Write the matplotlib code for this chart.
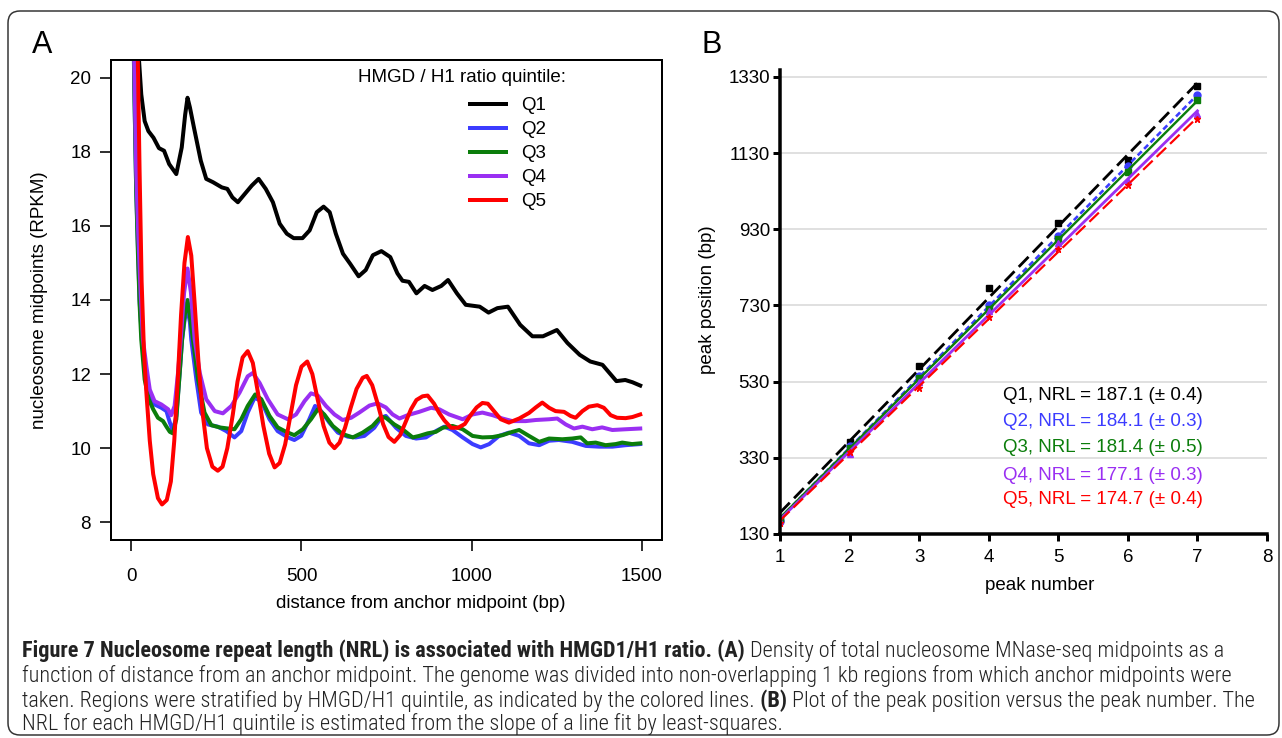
import numpy as np
import matplotlib
matplotlib.use("Agg")
from matplotlib import pyplot as plt
from matplotlib import font_manager
from matplotlib.patches import FancyBboxPatch
from matplotlib.transforms import IdentityTransform

W, H = 1282, 738

# ---- panel A: nucleosome midpoint density vs distance ----
q1_x = [10, 20, 29, 39, 50, 65, 81, 96, 111, 132, 148, 158, 165, 172, 184, 204, 220, 240, 266, 282, 297, 313,
        333, 354, 374, 395, 416, 436, 457, 477, 503, 524, 545, 565, 583, 601, 622, 643, 668, 689, 710, 735,
        761, 782, 797, 816, 838, 862, 885, 911, 931, 957, 983, 1024, 1050, 1076, 1107, 1143, 1179, 1210,
        1251, 1282, 1318, 1349, 1385, 1426, 1452, 1473, 1496]
q1_y = [24, 20.8, 19.55, 18.83, 18.56, 18.38, 18.10, 18.03, 17.67, 17.40, 18.12, 19.0, 19.46, 19.2, 18.65,
        17.76, 17.27, 17.18, 17.04, 17.00, 16.77, 16.64, 16.86, 17.09, 17.27, 17.00, 16.64, 16.06, 15.79,
        15.67, 15.67, 15.88, 16.37, 16.52, 16.37, 15.79, 15.25, 14.98, 14.64, 14.81, 15.21, 15.32, 15.16,
        14.72, 14.52, 14.49, 14.18, 14.38, 14.27, 14.38, 14.54, 14.18, 13.87, 13.82, 13.66, 13.78, 13.82,
        13.33, 13.02, 13.02, 13.19, 12.84, 12.52, 12.34, 12.25, 11.81, 11.84, 11.78, 11.69]

q2_x = [3, 8, 14, 19, 24, 31, 44, 54, 68, 88, 103, 113, 122, 132, 142, 149, 157, 165, 172, 176, 191, 205,
        225, 254, 279, 303, 323, 342, 362, 382, 406, 430, 460, 479, 499, 523, 540, 558, 582, 607, 636, 660,
        685, 714, 734, 748, 778, 807, 837, 866, 895, 920, 944, 974, 1003, 1027, 1052, 1081, 1110, 1140,
        1169, 1199, 1228, 1257, 1296, 1336, 1375, 1414, 1453, 1496]
q2_y = [24, 20, 17, 15.5, 14.0, 12.93, 11.85, 11.41, 11.18, 11.09, 11.00, 10.69, 10.47, 10.87, 12.03, 12.93,
        13.5, 13.75, 13.4, 12.93, 11.85, 10.96, 10.64, 10.58, 10.46, 10.29, 10.46, 10.96, 11.36, 11.27,
        10.78, 10.46, 10.29, 10.22, 10.33, 10.78, 11.14, 11.00, 10.69, 10.42, 10.31, 10.29, 10.33, 10.55,
        10.82, 10.87, 10.55, 10.33, 10.26, 10.29, 10.46, 10.58, 10.49, 10.29, 10.11, 10.02, 10.11, 10.33,
        10.42, 10.33, 10.13, 10.08, 10.20, 10.22, 10.17, 10.06, 10.04, 10.04, 10.08, 10.11]

q3_x = [3, 8, 14, 19, 24, 29, 39, 51, 64, 78, 93, 103, 113, 122, 132, 142, 149, 157, 165, 173, 181, 196,
        215, 235, 259, 284, 303, 323, 342, 364, 382, 406, 430, 455, 479, 504, 528, 548, 567, 592, 621, 651,
        680, 709, 734, 748, 773, 797, 827, 846, 871, 895, 915, 944, 974, 1003, 1032, 1062, 1091, 1120, 1140,
        1169, 1199, 1228, 1267, 1296, 1321, 1340, 1365, 1394, 1424, 1443, 1472, 1496]
q3_y = [24, 20, 17, 15.3, 13.9, 12.93, 11.85, 11.32, 11.05, 10.82, 10.73, 10.58, 10.44, 10.40, 10.78, 12.03,
        12.93, 13.6, 14.0, 13.5, 12.93, 11.85, 10.96, 10.62, 10.56, 10.53, 10.51, 10.78, 11.14, 11.45, 11.32,
        10.87, 10.56, 10.44, 10.35, 10.51, 10.78, 11.05, 10.91, 10.60, 10.38, 10.29, 10.42, 10.60, 10.85,
        10.82, 10.64, 10.51, 10.29, 10.33, 10.40, 10.44, 10.55, 10.60, 10.51, 10.33, 10.29, 10.30, 10.35,
        10.44, 10.49, 10.33, 10.17, 10.26, 10.24, 10.26, 10.29, 10.13, 10.15, 10.08, 10.11, 10.15, 10.11, 10.13]

q4_x = [3, 8, 14, 20, 27, 34, 44, 54, 68, 88, 108, 117, 127, 137, 145, 155, 165, 175, 186, 201, 220, 245,
        269, 294, 318, 342, 357, 377, 401, 430, 460, 484, 509, 528, 548, 572, 597, 621, 646, 670, 700, 724,
        748, 768, 788, 812, 846, 881, 905, 934, 974, 1003, 1032, 1062, 1091, 1120, 1159, 1189, 1228, 1252,
        1277, 1301, 1326, 1355, 1384, 1414, 1453, 1496]
q4_y = [24, 20.5, 17.5, 15.8, 14.2, 12.93, 12.21, 11.58, 11.27, 11.18, 11.05, 10.89, 11.14, 12.03, 12.93,
        14.2, 14.85, 14.2, 12.93, 12.03, 11.32, 11.00, 10.94, 11.14, 11.50, 11.94, 12.03, 11.76, 11.32, 10.91,
        10.78, 10.91, 11.27, 11.48, 11.42, 11.14, 10.91, 10.76, 10.82, 10.96, 11.15, 11.21, 11.10, 10.91,
        10.80, 10.89, 10.98, 11.09, 11.05, 10.91, 10.78, 10.91, 10.96, 10.89, 10.80, 10.73, 10.73, 10.76,
        10.78, 10.80, 10.64, 10.53, 10.58, 10.51, 10.56, 10.49, 10.51, 10.53]

q5_x = [12, 18, 24, 30, 37, 44, 54, 64, 78, 90, 104, 116, 126, 136, 146, 156, 166, 176, 186, 198, 210, 222,
        238, 254, 268, 282, 298, 312, 327, 342, 357, 372, 388, 405, 421, 436, 452, 468, 484, 500, 517, 532,
        548, 565, 582, 597, 612, 628, 645, 662, 680, 692, 708, 724, 740, 756, 773, 790, 806, 822, 838, 856,
        871, 890, 905, 920, 940, 960, 980, 998, 1015, 1032, 1048, 1066, 1086, 1110, 1140, 1169, 1189, 1208,
        1228, 1247, 1272, 1291, 1306, 1326, 1345, 1370, 1389, 1409, 1428, 1453, 1473, 1496]
q5_y = [26, 21, 17.5, 14.5, 12.6, 11.5, 10.2, 9.3, 8.65, 8.48, 8.6, 9.1, 10.2, 11.8, 13.6, 15.0, 15.7, 15.2,
        13.9, 12.2, 10.9, 10.0, 9.5, 9.39, 9.5, 10.0, 10.9, 11.8, 12.45, 12.62, 12.3, 11.5, 10.6, 9.85, 9.48,
        9.6, 10.1, 10.9, 11.7, 12.2, 12.34, 12.0, 11.3, 10.6, 10.15, 10.0, 10.15, 10.55, 11.1, 11.6, 11.9,
        11.95, 11.7, 11.2, 10.65, 10.3, 10.17, 10.35, 10.7, 11.05, 11.3, 11.4, 11.42, 11.2, 10.95, 10.75,
        10.55, 10.55, 10.65, 10.9, 11.1, 11.22, 11.2, 11.0, 10.78, 10.69, 10.8, 10.95, 11.1, 11.23, 11.09,
        11.0, 10.98, 10.87, 10.82, 11.0, 11.12, 11.16, 11.09, 10.89, 10.82, 10.81, 10.84, 10.91]

quintiles = ["Q1", "Q2", "Q3", "Q4", "Q5"]
colors = ["#000000", "#3c3cff", "#0b7d0b", "#9a2ff2", "#ff0000"]

# ---- panel B: peak position vs peak number ----
peak_num = [1, 2, 3, 4, 5, 6, 7]
peak_q1 = [168, 372, 572, 775, 945, 1112, 1305]
peak_q2 = [165, 360, 545, 730, 912, 1095, 1282]
peak_q3 = [170, 355, 540, 720, 905, 1080, 1268]
peak_q4 = [163, 340, 530, 715, 895, 1056, 1232]
peak_q5 = [160, 345, 514, 700, 878, 1045, 1218]
nrl_text = ["Q1, NRL = 187.1 (\u00b1 0.4)", "Q2, NRL = 184.1 (\u00b1 0.3)", "Q3, NRL = 181.4 (\u00b1 0.5)",
            "Q4, NRL = 177.1 (\u00b1 0.3)", "Q5, NRL = 174.7 (\u00b1 0.4)"]

# only keep font families that are really installed
installed = {f.name for f in font_manager.fontManager.ttflist}


def pick(cands):
    return [c for c in cands if c in installed] + ["DejaVu Sans"]


FONT = pick(["Liberation Sans", "Arimo", "Roboto"])
CAP_FONT = pick(["Roboto Condensed", "Liberation Sans Narrow", "DejaVu Sans Condensed", "Liberation Sans"])
plt.rcParams["font.family"] = FONT
PX = 0.72  # points per pixel at dpi 100


def fx(x):
    return x / W


def fy(y):
    return 1 - y / H


fig = plt.figure(figsize=(W / 100, H / 100), dpi=100)

# outer rounded frame
frame = FancyBboxPatch((8, 3), 1271, 724, boxstyle="round,pad=0,rounding_size=12",
                       transform=IdentityTransform(), fill=False, ec="#333333", lw=1.5 * PX)
fig.patches.append(frame)

# ---------------- panel A ----------------
axA = fig.add_axes([fx(111), fy(540), fx(551), 480 / H])
series = [(q1_x, q1_y), (q2_x, q2_y), (q3_x, q3_y), (q4_x, q4_y), (q5_x, q5_y)]
lines = []
for (xs, ys), c, q in zip(series, colors, quintiles):
    l, = axA.plot(xs, ys, color=c, lw=4 * PX, label=q, solid_joinstyle="round")
    lines.append(l)
axA.set_xlim(-60, 1560)
axA.set_ylim(7.52, 20.48)
axA.set_xticks([0, 500, 1000, 1500])
axA.set_yticks([8, 10, 12, 14, 16, 18, 20])
axA.tick_params(direction="out", length=11 * PX, width=1.6 * PX, labelsize=13.5, color="black")
axA.tick_params(axis="y", pad=9 * PX)
axA.tick_params(axis="x", pad=17 * PX)
for s in axA.spines.values():
    s.set_linewidth(2 * PX)
axA.text((358 - 111) / 551, (540 - 78) / 480, "HMGD / H1 ratio quintile:",
         transform=axA.transAxes, ha="left", va="center", fontsize=13.5)
axA.legend(handles=lines, loc="upper left", bbox_to_anchor=((470 - 111) / 551, (540 - 97) / 480),
           frameon=False, fontsize=13.5, borderpad=0, borderaxespad=0, handlelength=1.9,
           handletextpad=0.85, labelspacing=0.37)
fig.text(fx(40), fy(300), "nucleosome midpoints (RPKM)", rotation=90, ha="center", va="center", fontsize=13.5)
fig.text(fx(421), fy(604), "distance from anchor midpoint (bp)", ha="center", va="center", fontsize=13.5)
fig.text(fx(42), fy(45), "A", ha="center", va="center", fontsize=22)

# ---------------- panel B ----------------
axB = fig.add_axes([fx(780), fy(534), fx(487), 464 / H])
axB.set_xlim(1, 8)
axB.set_ylim(130, 130 + 464 / 0.381)
axB.set_xticks(range(1, 9))
axB.set_yticks([130, 330, 530, 730, 930, 1130, 1330])
axB.grid(axis="y", color="#d9d9d9", lw=1.6 * PX)
axB.set_axisbelow(True)
for side in ["top", "right"]:
    axB.spines[side].set_visible(False)
for side in ["left", "bottom"]:
    axB.spines[side].set_linewidth(3.5 * PX)
axB.tick_params(direction="out", length=7 * PX, width=3 * PX, labelsize=13.5)
axB.tick_params(axis="y", pad=3 * PX)
axB.tick_params(axis="x", pad=8 * PX)

peaks = [peak_q1, peak_q2, peak_q3, peak_q4, peak_q5]
markers = ["s", "o", "s", "^", "*"]
styles = [(0, (5, 2.2)), (0, (2.2, 1.3)), "-", "-", (0, (6, 2.5))]
widths = [2.8, 2.6, 2.4, 2.8, 2.2]
for ys, c, m, ls, w in zip(peaks, colors, markers, styles, widths):
    axB.plot(peak_num, ys, ls="none", marker=m, ms=5, color=c, mec=c)
    k, b = np.polyfit(peak_num, ys, 1)
    xx = np.array([peak_num[0], peak_num[-1]])
    axB.plot(xx, k * xx + b, color=c, lw=w * PX, ls=ls)

text_y = [395, 421, 448, 476, 500]
for t, c, yy in zip(nrl_text, colors, text_y):
    fig.text(fx(1003), fy(yy), t, color=c, ha="left", va="center", fontsize=13.5)
fig.text(fx(708), fy(300), "peak position (bp)", rotation=90, ha="center", va="center", fontsize=13.5)
fig.text(fx(1040), fy(586), "peak number", ha="center", va="center", fontsize=13.5)
fig.text(fx(712), fy(45), "B", ha="center", va="center", fontsize=22)

# ---------------- caption ----------------
cap_lines = [
    [("Figure 7 Nucleosome repeat length (NRL) is associated with HMGD1/H1 ratio.", True), (" (A)", True),
     (" Density of total nucleosome MNase-seq midpoints as a", False)],
    [("function of distance from an anchor midpoint. The genome was divided into non-overlapping 1 kb "
      "regions from which anchor midpoints were", False)],
    [("taken. Regions were stratified by HMGD/H1 quintile, as indicated by the colored lines.", False),
     (" (B)", True), (" Plot of the peak position versus the peak number. The", False)],
    [("NRL for each HMGD/H1 quintile is estimated from the slope of a line fit by least-squares.", False)],
]
cap_y = [651, 676, 701, 724]
renderer = fig.canvas.get_renderer()

# size the caption so its longest line spans the same width as in the figure
probe = fig.text(0, 0, cap_lines[1][0][0], family=CAP_FONT, fontsize=12.5, fontweight="light")
cap_size = min(16, 12.5 * 1240 / probe.get_window_extent(renderer).width)
probe.remove()

for runs, yy in zip(cap_lines, cap_y):
    x = 22
    for txt, bold in runs:
        t = fig.text(fx(x), fy(yy), txt, family=CAP_FONT, fontsize=cap_size,
                     fontweight="bold" if bold else "light", color="#222222", ha="left", va="center")
        x += t.get_window_extent(renderer).width

fig.savefig("out.png", dpi=100)
